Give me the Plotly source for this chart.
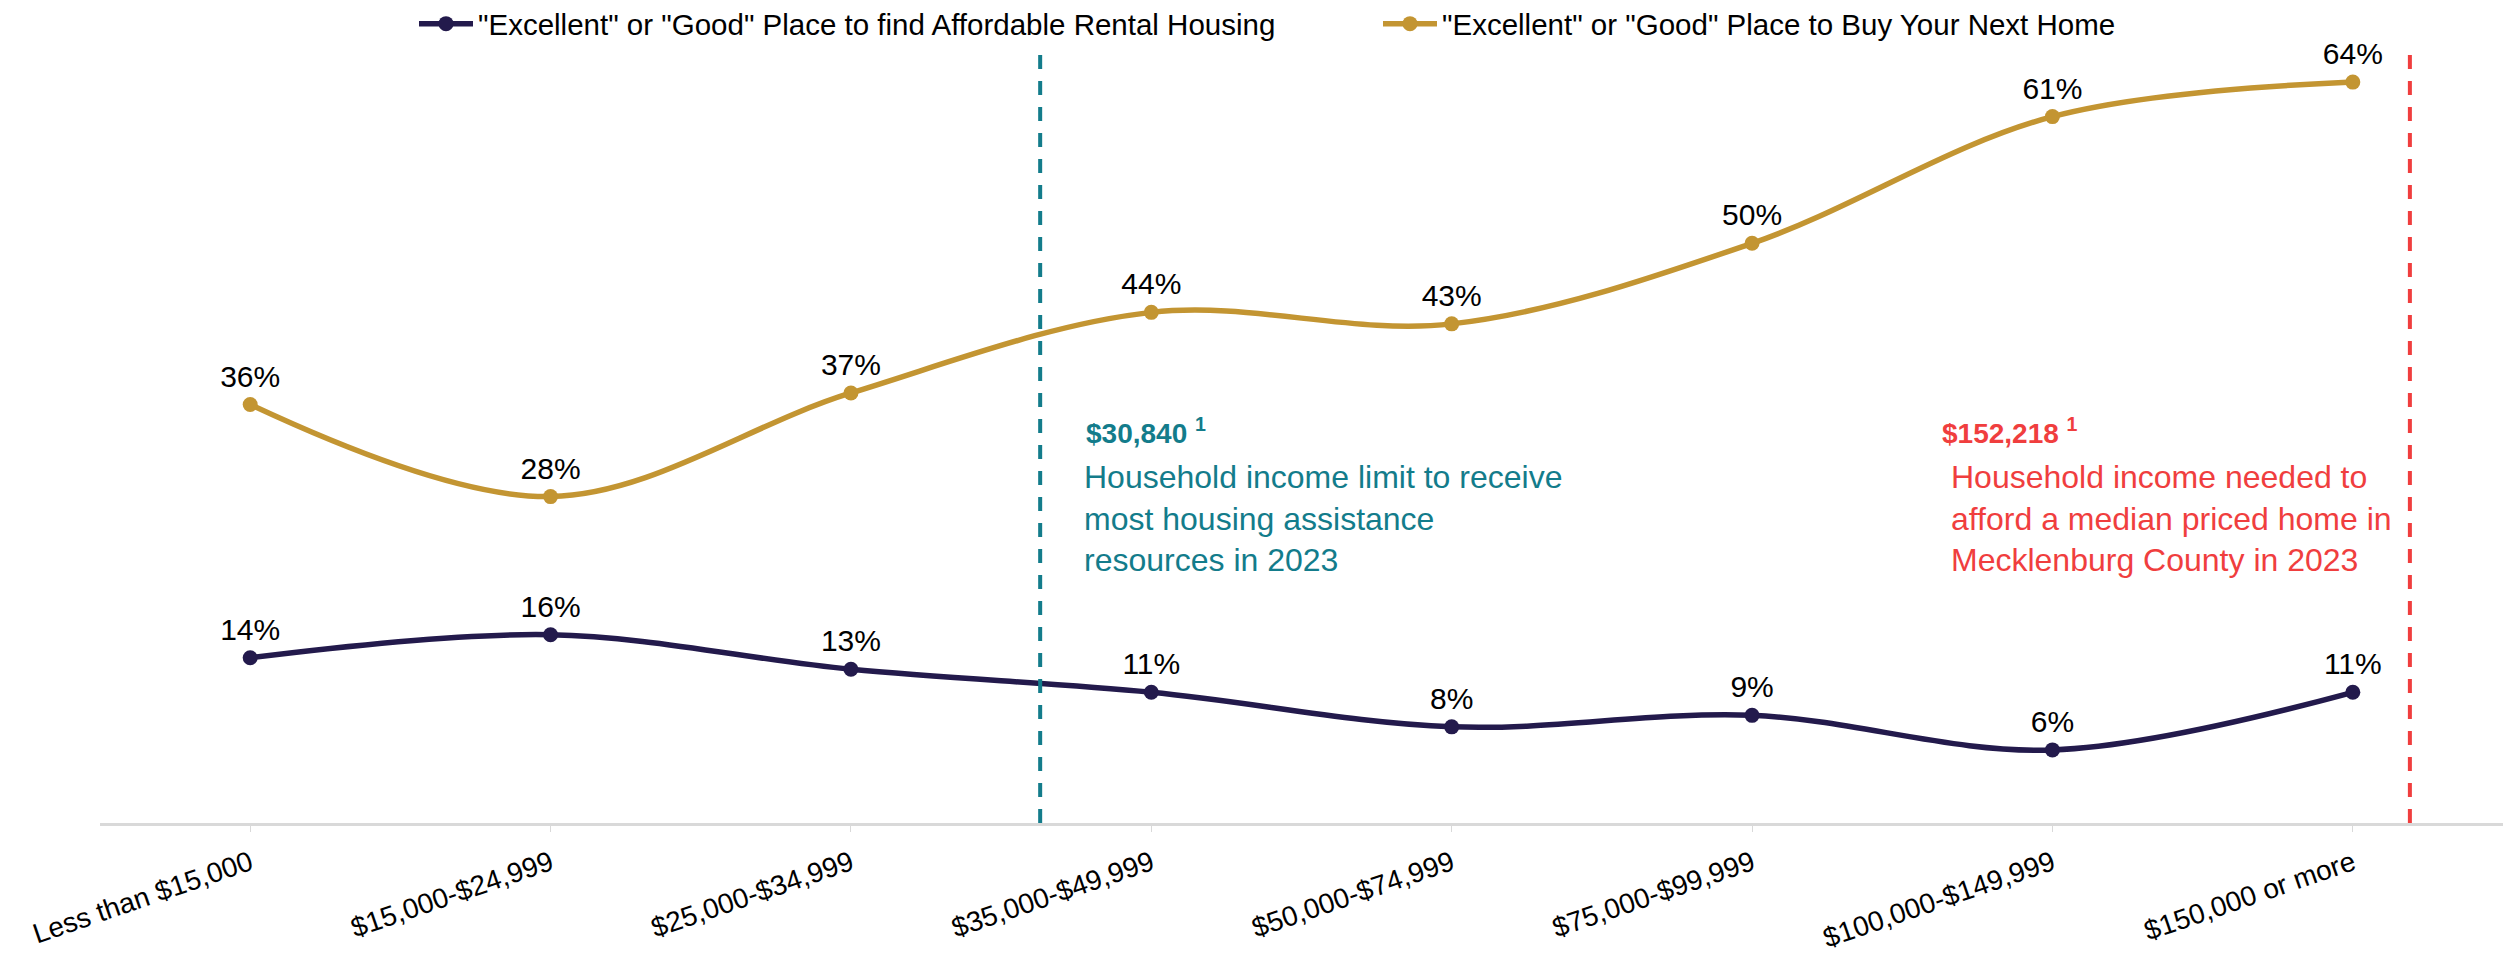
import plotly.graph_objects as go

categories = ["Less than $15,000", "$15,000-$24,999", "$25,000-$34,999", "$35,000-$49,999",
              "$50,000-$74,999", "$75,000-$99,999", "$100,000-$149,999", "$150,000 or more"]
rental_values = [14, 16, 13, 11, 8, 9, 6, 11]
buy_values = [36, 28, 37, 44, 43, 50, 61, 64]
rental_name = '"Excellent" or "Good" Place to find Affordable Rental Housing'
buy_name = '"Excellent" or "Good" Place to Buy Your Next Home'

assist_title = "$30,840"
assist_text = ["Household income limit to receive", "most housing assistance", "resources in 2023"]
home_title = "$152,218"
home_text = ["Household income needed to", "afford a median priced home in", "Mecklenburg County in 2023"]

NAVY = "#231A4C"
GOLD = "#C39532"
TEAL = "#137C8B"
RED = "#F03E3E"
FONT = "Liberation Sans, Arial, sans-serif"

x_idx = list(range(len(categories)))

fig = go.Figure()
for name, vals, col in [(rental_name, rental_values, NAVY), (buy_name, buy_values, GOLD)]:
    fig.add_trace(go.Scatter(
        x=x_idx, y=vals, name=name, mode="lines+markers+text",
        line=dict(color=col, width=5.5, shape="spline", smoothing=1.0),
        marker=dict(color=col, size=15),
        text=[f"{v}%" for v in vals], textposition="top center",
        textfont=dict(family=FONT, size=30, color="black"),
        cliponaxis=False,
    ))

teal_x = 2.63
red_x = 7.19
for xv, col in [(teal_x, TEAL), (red_x, RED)]:
    fig.add_shape(type="line", xref="x", yref="paper", x0=xv, x1=xv, y0=0, y1=0.95,
                  line=dict(color=col, width=4, dash="14px,12px"))

def ypix(p):
    return (819 - p) / 11.52

fig.add_annotation(xref="x", yref="y", x=2.775, y=ypix(431), xanchor="left", yanchor="middle",
                   text=f"<b>{assist_title} <sup>1</sup></b>", showarrow=False, align="left",
                   font=dict(family=FONT, size=28, color=TEAL))
fig.add_annotation(xref="x", yref="y", x=2.77, y=ypix(478), xanchor="left", yanchor="top",
                   yshift=21,
                   text="<br>".join(assist_text), showarrow=False, align="left",
                   font=dict(family=FONT, size=32, color=TEAL))
fig.add_annotation(xref="x", yref="y", x=5.625, y=ypix(431), xanchor="left", yanchor="middle",
                   text=f"<b>{home_title} <sup>1</sup></b>", showarrow=False, align="left",
                   font=dict(family=FONT, size=28, color=RED))
fig.add_annotation(xref="x", yref="y", x=5.655, y=ypix(478), xanchor="left", yanchor="top",
                   yshift=21,
                   text="<br>".join(home_text), showarrow=False, align="left",
                   font=dict(family=FONT, size=32, color=RED))

# page body has an 8px default margin, so the figure is drawn 8px smaller and offset
fig.update_layout(
    width=2506, height=946,
    margin=dict(l=92, r=11, t=5, b=131, autoexpand=False),
    paper_bgcolor="white", plot_bgcolor="white",
    font=dict(family=FONT, size=28, color="black"),
    showlegend=True,
    legend=dict(orientation="h", xref="paper", yref="paper", x=(414-100)/2403, y=(823-24)/810,
                xanchor="left", yanchor="middle", font=dict(family=FONT, size=29.5, color="black"),
                itemwidth=54, entrywidth=895, entrywidthmode="pixels", bgcolor="rgba(0,0,0,0)",
                borderwidth=0, tracegroupgap=0),
    xaxis=dict(range=[-0.5, 7.5], tickmode="array", tickvals=x_idx, ticktext=categories,
               tickangle=-19, showgrid=False, zeroline=False, showline=True, automargin=False,
               linecolor="#D9D9D9", linewidth=3, ticks="outside", ticklen=6, tickcolor="#D9D9D9",
               ticklabelstandoff=4,
               tickfont=dict(family=FONT, size=28, color="black")),
    yaxis=dict(range=[-0.35, 70], visible=False, showgrid=False, zeroline=False, automargin=False),
)

fig.write_html("out.html")
